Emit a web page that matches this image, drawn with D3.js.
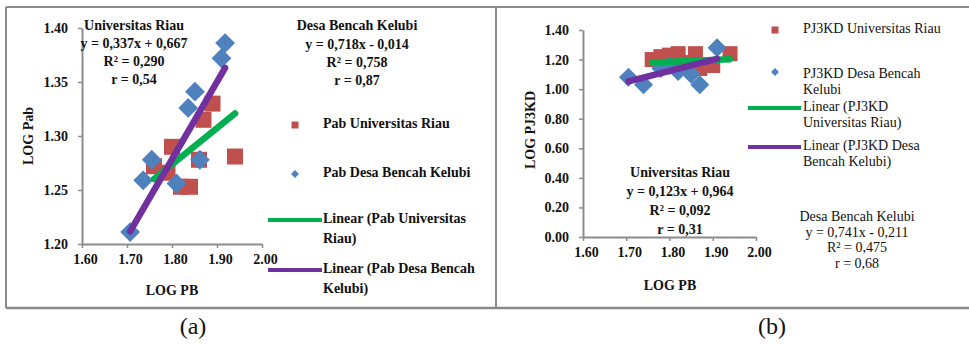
<!DOCTYPE html>
<html>
<head>
<meta charset="utf-8">
<script src="https://cdn.jsdelivr.net/npm/d3@7/dist/d3.min.js"></script>
<style>
  html, body { margin: 0; padding: 0; background: #fff; }
  svg text { font-family: "Liberation Serif", "Times New Roman", serif; fill: #111; }
</style>
</head>
<body>
<svg id="chart" width="969" height="344"></svg>
<script>
// Panel (a): log Pab vs log PB
const pabRiauX  = [1.76, 1.79, 1.80, 1.82, 1.84, 1.86, 1.87, 1.89, 1.94];
const pabRiauY  = [1.272, 1.266, 1.290, 1.253, 1.253, 1.278, 1.315, 1.330, 1.281];
const pabDesaX  = [1.707, 1.736, 1.755, 1.81, 1.836, 1.851, 1.862, 1.910, 1.918];
const pabDesaY  = [1.211, 1.259, 1.278, 1.256, 1.326, 1.341, 1.278, 1.372, 1.386];
const pabRiauFit = { slope: 0.337, intercept: 0.667 };
const pabDesaFit = { slope: 0.718, intercept: -0.014 };

// Panel (b): log PJ3KD vs log PB
const pjRiauX = [1.76, 1.78, 1.80, 1.82, 1.84, 1.86, 1.87, 1.90, 1.94];
const pjRiauY = [1.20, 1.22, 1.23, 1.24, 1.18, 1.24, 1.14, 1.16, 1.24];
const pjDesaX = [1.705, 1.74, 1.78, 1.80, 1.82, 1.85, 1.87, 1.91];
const pjDesaY = [1.08, 1.03, 1.14, 1.16, 1.12, 1.10, 1.03, 1.28];
const pjRiauFit = { slope: 0.123, intercept: 0.964 };
const pjDesaFit = { slope: 0.741, intercept: -0.211 };

// Axis ticks
const xTicks  = [1.60, 1.70, 1.80, 1.90, 2.00];
const yTicksA = [1.20, 1.25, 1.30, 1.35, 1.40];
const yTicksB = [0.00, 0.20, 0.40, 0.60, 0.80, 1.00, 1.20, 1.40];

// Text blocks
const eqRiauA = ["Universitas Riau", "y = 0,337x + 0,667", "R² = 0,290", "r = 0,54"];
const eqDesaA = ["Desa Bencah Kelubi", "y = 0,718x - 0,014", "R² = 0,758", "r = 0,87"];
const eqRiauB = ["Universitas Riau", "y = 0,123x + 0,964", "R² = 0,092", "r = 0,31"];
const eqDesaB = ["Desa Bencah Kelubi", "y = 0,741x - 0,211", "R² = 0,475", "r = 0,68"];
const legendA = [
  ["Pab Universitas Riau"],
  ["Pab Desa Bencah Kelubi"],
  ["Linear (Pab Universitas", "Riau)"],
  ["Linear (Pab Desa Bencah", "Kelubi)"]
];
const legendB = [
  ["PJ3KD Universitas Riau"],
  ["PJ3KD Desa Bencah", "Kelubi"],
  ["Linear (PJ3KD", "Universitas Riau)"],
  ["Linear (PJ3KD Desa", "Bencah Kelubi)"]
];

const RED = "#c0504d", BLUE = "#4f81bd", GREEN = "#00b050", PURPLE = "#7030a0";
const AXIS = "#8c8c8c", FRAME = "#8a8a8a";

const svg = d3.select("#chart");

// Outer frames of the two panels
svg.append("line").attr("x1", 6).attr("x2", 969).attr("y1", 7).attr("y2", 7)
  .attr("stroke", FRAME).attr("stroke-width", 2);
svg.append("line").attr("x1", 6).attr("x2", 969).attr("y1", 308).attr("y2", 308)
  .attr("stroke", FRAME).attr("stroke-width", 2.5);
svg.append("line").attr("x1", 6).attr("x2", 6).attr("y1", 7).attr("y2", 308)
  .attr("stroke", FRAME).attr("stroke-width", 2);
svg.append("line").attr("x1", 496).attr("x2", 496).attr("y1", 7).attr("y2", 308)
  .attr("stroke", FRAME).attr("stroke-width", 2);

function drawPanel(cfg) {
  const g = svg.append("g");
  const x = d3.scaleLinear().domain([1.6, 2.0]).range(cfg.xRange);
  const y = d3.scaleLinear().domain(cfg.yDomain).range(cfg.yRange);

  // axes
  const xAxis = d3.axisBottom(x).tickValues(xTicks).tickFormat(d3.format(".2f"))
    .tickSizeInner(4).tickSizeOuter(0).tickPadding(6);
  const yAxis = d3.axisLeft(y).tickValues(cfg.yTicks).tickFormat(d3.format(".2f"))
    .tickSizeInner(4).tickSizeOuter(0).tickPadding(10);
  const gx = g.append("g").attr("transform", `translate(0,${cfg.yRange[0]})`).call(xAxis);
  const gy = g.append("g").attr("transform", `translate(${cfg.xRange[0]},0)`).call(yAxis);
  [gx, gy].forEach(a => {
    a.select(".domain").attr("stroke", AXIS).attr("stroke-width", 2);
    a.selectAll(".tick line").attr("stroke", AXIS).attr("stroke-width", 1.5);
    a.selectAll(".tick text").attr("fill", "#111")
      .style("font-family", '"Liberation Serif", serif')
      .style("font-size", "14px").style("font-weight", "bold");
  });
  gx.selectAll(".tick text").attr("dx", 3);

  // axis titles
  g.append("text").attr("x", cfg.xTitle[0]).attr("y", cfg.xTitle[1])
    .attr("text-anchor", "middle").attr("dominant-baseline", "middle")
    .style("font-size", "14px").style("font-weight", "bold").text("LOG PB");
  g.append("text")
    .attr("transform", `translate(${cfg.yTitle[0]},${cfg.yTitle[1]}) rotate(-90)`)
    .attr("text-anchor", "middle").attr("dominant-baseline", "middle")
    .style("font-size", "14px").style("font-weight", "bold").text(cfg.yLabel);

  // red squares
  const sq = cfg.sq;
  g.append("g").selectAll("rect").data(d3.zip(cfg.riauX, cfg.riauY)).join("rect")
    .attr("x", d => x(d[0]) - sq / 2).attr("y", d => y(d[1]) - sq / 2)
    .attr("width", sq).attr("height", sq).attr("fill", RED);

  // blue diamonds
  const dm = d3.symbol().type(d3.symbolDiamond2).size(cfg.dm);
  g.append("g").selectAll("path").data(d3.zip(cfg.desaX, cfg.desaY)).join("path")
    .attr("d", dm).attr("transform", d => `translate(${x(d[0])},${y(d[1])})`)
    .attr("fill", BLUE);

  // linear trendlines over each series' x range
  const trend = (xs, fit, color) => {
    const [x0, x1] = d3.extent(xs);
    g.append("line")
      .attr("x1", x(x0)).attr("y1", y(fit.slope * x0 + fit.intercept))
      .attr("x2", x(x1)).attr("y2", y(fit.slope * x1 + fit.intercept))
      .attr("stroke", color).attr("stroke-width", 6.5).attr("stroke-linecap", "round");
  };
  trend(cfg.riauX, cfg.riauFit, GREEN);
  trend(cfg.desaX, cfg.desaFit, PURPLE);

  // equation blocks
  cfg.eqBlocks.forEach(b => {
    g.append("g").selectAll("text").data(b.lines).join("text")
      .attr("x", b.x).attr("y", (d, i) => b.y + i * b.step)
      .attr("text-anchor", "middle").attr("dominant-baseline", "middle")
      .style("font-size", b.size + "px").style("font-weight", b.weight).text(d => d);
  });

  // legend
  const L = cfg.legend;
  L.entries.forEach((lines, i) => {
    const cy = L.ys[i];
    if (i === 0) {
      g.append("rect").attr("x", L.markX - 3.5).attr("y", cy - 3.5)
        .attr("width", 7).attr("height", 7).attr("fill", RED);
    } else if (i === 1) {
      g.append("path").attr("d", d3.symbol().type(d3.symbolDiamond2).size(40))
        .attr("transform", `translate(${L.markX},${cy})`).attr("fill", BLUE);
    } else {
      g.append("line").attr("x1", L.lineX[0]).attr("x2", L.lineX[1])
        .attr("y1", cy).attr("y2", cy)
        .attr("stroke", i === 2 ? GREEN : PURPLE).attr("stroke-width", 4);
    }
    g.append("g").selectAll("text").data(lines).join("text")
      .attr("x", L.textX).attr("y", (d, j) => cy + (L.textDy || 0) * (i === 1 ? 1 : 0) + j * L.lineStep)
      .attr("dominant-baseline", "middle")
      .style("font-size", L.size + "px").style("font-weight", L.weight).text(d => d);
  });
}

drawPanel({
  xRange: [82, 262], yDomain: [1.2, 1.4], yRange: [244, 28], yTicks: yTicksA,
  xTitle: [172, 292], yTitle: [30, 136], yLabel: "LOG Pab",
  riauX: pabRiauX, riauY: pabRiauY, desaX: pabDesaX, desaY: pabDesaY,
  riauFit: pabRiauFit, desaFit: pabDesaFit, sq: 16, dm: 250,
  eqBlocks: [
    { lines: eqRiauA, x: 134, y: 27, step: 18, size: 14, weight: "bold" },
    { lines: eqDesaA, x: 357, y: 27, step: 18.3, size: 14, weight: "bold" }
  ],
  legend: {
    entries: legendA, ys: [125, 174, 220, 270], markX: 295, lineX: [268, 322],
    textX: 323, lineStep: 20, size: 14, weight: "bold"
  }
});

drawPanel({
  xRange: [583, 756], yDomain: [0, 1.4], yRange: [237, 30], yTicks: yTicksB,
  xTitle: [670, 287], yTitle: [532, 130], yLabel: "LOG PJ3KD",
  riauX: pjRiauX, riauY: pjRiauY, desaX: pjDesaX, desaY: pjDesaY,
  riauFit: pjRiauFit, desaFit: pjDesaFit, sq: 15, dm: 230,
  eqBlocks: [
    { lines: eqRiauB, x: 680, y: 174, step: 19, size: 14, weight: "bold" },
    { lines: eqDesaB, x: 857, y: 218, step: 15.5, size: 14, weight: "normal" }
  ],
  legend: {
    entries: legendB, ys: [30, 72, 108, 147], markX: 775, lineX: [748, 801],
    textX: 803, lineStep: 16, textDy: 3, size: 14, weight: "normal"
  }
});

// panel captions
svg.append("text").attr("x", 193).attr("y", 328).attr("text-anchor", "middle")
  .attr("dominant-baseline", "middle").style("font-size", "24px").text("(a)");
svg.append("text").attr("x", 772).attr("y", 328).attr("text-anchor", "middle")
  .attr("dominant-baseline", "middle").style("font-size", "24px").text("(b)");
</script>
</body>
</html>
